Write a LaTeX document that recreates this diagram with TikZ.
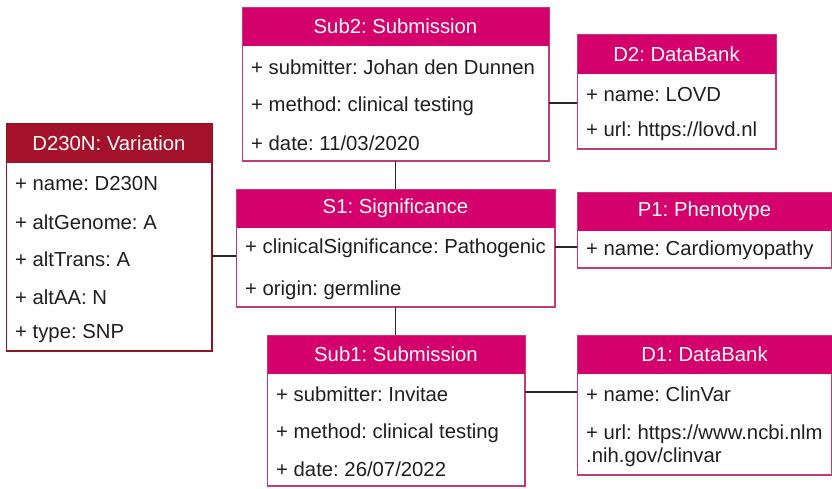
\documentclass[tikz,border=0pt]{standalone}
\usepackage{fontspec}
\setmainfont{Liberation Sans}
\frenchspacing
\begin{document}
\begin{tikzpicture}[x=1pt,y=-1pt,
  every node/.style={font=\fontsize{20.3}{24}\selectfont},
  boxframe/.style={draw=#1, line width=1pt, fill=white, inner sep=0pt, anchor=north west},
  headbar/.style={fill=#1, draw=#1, line width=1pt, inner sep=0pt, anchor=north west,
    text=white, align=center},
  field/.style={anchor=west, inner sep=0pt, text=black!88},
  link/.style={line width=1.3pt, draw=black!85}]
\useasboundingbox (0,0) rectangle (832,488);

\definecolor{magenta}{HTML}{D4006C}
\definecolor{magline}{HTML}{C23A78}
\definecolor{wine}{HTML}{A3112B}
\definecolor{wineline}{HTML}{8E1622}

% a class box: name, left, top, right, header bottom, bottom, title, fill, frame
\newcommand\classbox[9]{%
  \node[boxframe=#9, minimum width={#4-#2}, minimum height={#6-#3}] (#1) at (#2,#3) {};
  \node[headbar=#8, minimum width={#4-#2}, minimum height={#5-#3}] (#1head) at (#2,#3) {#7};
  \draw[#9, line width=1pt] (#1.north west) rectangle (#1.south east);
}

% Sub2: Submission
\classbox{sub2}{242}{7}{548}{45}{160}{Sub2: Submission}{magenta}{magline}
\node[field] (sub2a) at (251,67) {+ submitter: Johan den Dunnen};
\node[field] (sub2b) at (251,106) {+ method: clinical testing};
\node[field] (sub2c) at (251,143) {+ date: 11/03/2020};

% D2: DataBank
\classbox{dtwo}{577}{34}{775}{73}{148}{D2: DataBank}{magenta}{magline}
\node[field] (dtwoa) at (586,95) {+ name: LOVD};
\node[field] (dtwob) at (586,131) {+ url: https://lovd.nl};

% D230N: Variation
\classbox{var}{6}{123}{211}{162}{350}{D230N: Variation}{wine}{wineline}
\node[field] (vara) at (15,184) {+ name: D230N};
\node[field] (varb) at (15,222) {+ altGenome: A};
\node[field] (varc) at (15,259) {+ altTrans: A};
\node[field] (vard) at (15,297) {+ altAA: N};
\node[field] (vare) at (15,334) {+ type: SNP};

% S1: Significance
\classbox{sig}{236}{189}{554}{227}{306}{S1: Significance}{magenta}{magline}
\node[field] (siga) at (245,248) {+ clinicalSignificance: Pathogenic};
\node[field] (sigb) at (245,290) {+ origin: germline};

% P1: Phenotype
\classbox{phen}{577}{192}{831}{230}{267}{P1: Phenotype}{magenta}{magline}
\node[field] (phena) at (586,250) {+ name: Cardiomyopathy};

% Sub1: Submission
\classbox{sub1}{267}{335}{524}{373}{485}{Sub1: Submission}{magenta}{magline}
\node[field] (sub1a) at (276,394) {+ submitter: Invitae};
\node[field] (sub1b) at (276,433) {+ method: clinical testing};
\node[field] (sub1c) at (276,469) {+ date: 26/07/2022};

% D1: DataBank
\classbox{done}{577}{335}{831}{373}{474}{D1: DataBank}{magenta}{magline}
\node[field] (donea) at (586,394) {+ name: ClinVar};
\node[field] (doneb) at (586,434) {+ url: https://www.ncbi.nlm};
\node[field] (donec) at (586,457) {.nih.gov/clinvar};

% associations
\draw[link] (sub2.south) -- (sig.north);
\draw[link] (sig.south) -- (sig.south |- sub1.north);
\draw[link] (sub2.east |- 0,103) -- (dtwo.west |- 0,103);
\draw[link] (var.east |- 0,256) -- (sig.west |- 0,256);
\draw[link] (sig.east |- 0,247) -- (phen.west |- 0,247);
\draw[link] (sub1.east |- 0,392) -- coordinate[pos=0.5] (tick) (done.west |- 0,392);
\draw[line width=1pt, black!85] ([xshift=-2pt,yshift=1pt]tick) -- ([xshift=3pt,yshift=1pt]tick);
\end{tikzpicture}
\end{document}
